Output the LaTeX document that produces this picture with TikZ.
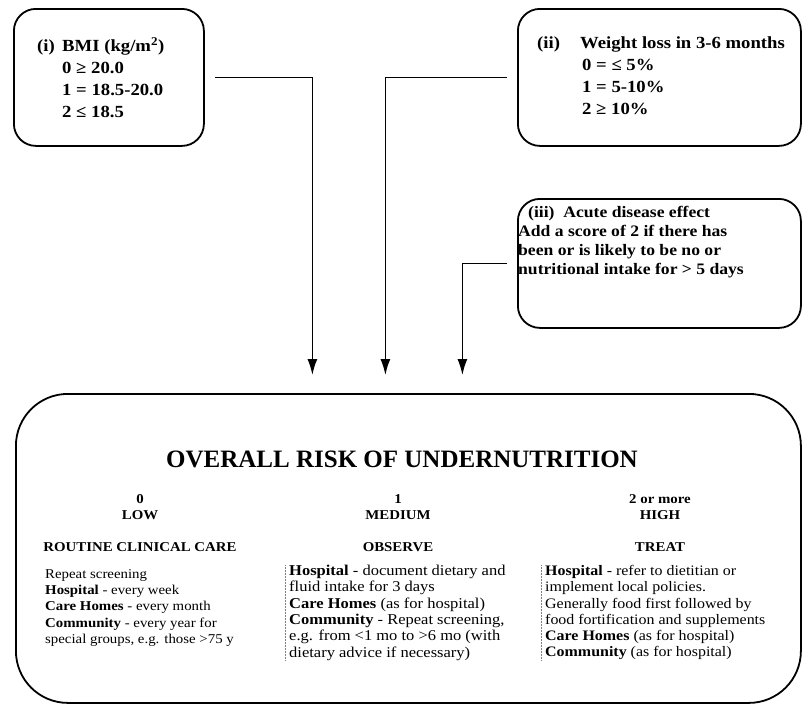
\documentclass[tikz,border=0pt]{standalone}
\usepackage{fontspec}
\setmainfont{Liberation Serif}[FakeStretch=1.1]
\newfontfamily\titlefont{Liberation Serif}
\usetikzlibrary{arrows.meta, positioning}

\tikzset{
  box/.style={draw, line width=1.8pt, rounded corners=22pt, anchor=north west, inner sep=0pt},
  toptext/.style={anchor=north west, align=left, inner sep=0pt, font=\bfseries\fontsize{17}{22}\selectfont},
  acutetext/.style={anchor=north west, align=left, inner sep=0pt, font=\bfseries\fontsize{16}{19}\selectfont},
  colhead/.style={align=center, inner sep=0pt, font=\bfseries\fontsize{13.5}{16}\selectfont},
  coltext/.style={anchor=north west, align=left, inner sep=0pt, font=\fontsize{#1}{16.3}\selectfont},
  colrule/.style={draw=gray, line width=0.5pt, densely dotted},
  arr/.style={line width=1.6pt, -{Latex[length=16pt,width=10pt]}, shorten <=10pt, shorten >=18pt}
}

\begin{document}
\begin{tikzpicture}[x=1pt, y=-1pt]
\useasboundingbox (0,0) rectangle (803,707);

\node[box, minimum width=190pt, minimum height=137pt] (bmi) at (13,8) {};
\node[box, minimum width=283pt, minimum height=137pt] (wtl) at (517,8) {};
\node[box, minimum width=283pt, minimum height=129pt] (acute) at (517,198) {};
\node[box, rounded corners=52pt, minimum width=785pt, minimum height=309pt] (risk) at (15,393) {};

\node[toptext] (bmitxt) at (37,37) {\makebox[25pt][l]{(i)}BMI (kg/m\textsuperscript{2})\\
  \hspace*{25pt}0 ≥ 20.0\\ \hspace*{25pt}1 = 18.5-20.0\\ \hspace*{25pt}2 ≤ 18.5};
\node[toptext] (wtltxt) at (537,37) {\makebox[43pt][l]{(ii)}Weight loss in 3-6 months\\
  \hspace*{45pt}0 = ≤ 5\%\\ \hspace*{45pt}1 = 5-10\%\\ \hspace*{45pt}2 ≥ 10\%};
\node[acutetext] (acutetxt) at (518,206) {\hspace*{10pt}(iii)\ \ Acute disease effect\\
  Add a score of 2 if there has\\ been or is likely to be no or\\ nutritional intake for > 5 days};

\draw[arr] (bmi) -| ([xshift=-96pt]risk.north);
\draw[arr] (wtl) -| ([xshift=-23pt]risk.north);
\draw[arr] (acute) -| ([xshift=54pt]risk.north);

\node[font=\titlefont\bfseries\fontsize{25}{30}\selectfont, inner sep=0pt] (title) at (402,459) {OVERALL RISK OF UNDERNUTRITION};

\node[colhead] (low) at (140,507) {0\\LOW};
\node[colhead] (medium) at (398,507) {1\\MEDIUM};
\node[colhead] (high) at (660,507) {2 or more\\HIGH};
\node[colhead] (routine) at (140,547) {ROUTINE CLINICAL CARE};
\node[colhead] (observe) at (398,547) {OBSERVE};
\node[colhead] (treat) at (660,547) {TREAT};

\node[coltext=13.5] (lowtxt) at (45,569) {Repeat screening\\
  \textbf{Hospital} - every week\\
  \textbf{Care Homes} - every month\\
  \textbf{Community} - every year for\\
  special groups, e.g. those >75 y};
\node[coltext=15] (medtxt) at (289,565) {\textbf{Hospital} - document dietary and\\
  fluid intake for 3 days\\
  \textbf{Care Homes} (as for hospital)\\
  \textbf{Community} - Repeat screening,\\
  e.g. from <1 mo to >6 mo (with\\
  dietary advice if necessary)};
\node[coltext=14.5] (hightxt) at (545,565) {\textbf{Hospital} - refer to dietitian or\\
  implement local policies.\\
  Generally food first followed by\\
  food fortification and supplements\\
  \textbf{Care Homes} (as for hospital)\\
  \textbf{Community} (as for hospital)};

\draw[colrule] ([xshift=-4pt]medtxt.north west) -- ([xshift=-4pt]medtxt.south west);
\draw[colrule] ([xshift=-4pt]hightxt.north west) -- ([xshift=-4pt]hightxt.south west);
\end{tikzpicture}
\end{document}
